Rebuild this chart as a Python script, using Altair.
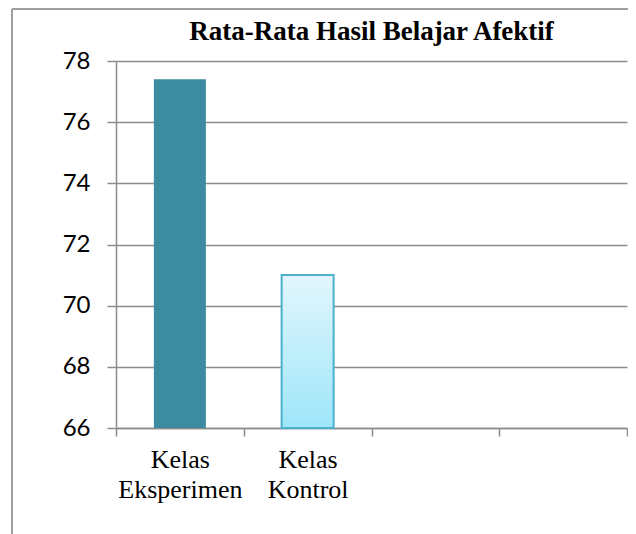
import altair as alt
import pandas as pd

# Data
categories = ["Kelas|Eksperimen", "Kelas|Kontrol", " ", "  "]
bar_categories = ["Kelas|Eksperimen", "Kelas|Kontrol"]
values = [77.4, 71.0]
y_ticks = [66, 68, 70, 72, 74, 76, 78]
y_min, y_max = 66, 78
title_text = "Rata-Rata Hasil Belajar Afektif"

df = pd.DataFrame({"kelas": bar_categories, "nilai": values})

GRID = "#8c8c8c"

x_enc = alt.X(
    "kelas:N",
    sort=categories,
    scale=alt.Scale(domain=categories, paddingInner=0, paddingOuter=0),
    axis=alt.Axis(
        title=None,
        labelAngle=0,
        labelExpr="split(datum.label, '|')",
        labelFont="Liberation Serif",
        labelFontSize=26,
        labelLineHeight=30,
        labelColor="#000000",
        labelPadding=10,
        tickBand="extent",
        tickSize=8,
        tickWidth=1.5,
        tickColor=GRID,
        domainColor=GRID,
        domainWidth=1.5,
        grid=False,
    ),
)
y_enc = alt.Y(
    "nilai:Q",
    scale=alt.Scale(domain=[y_min, y_max], nice=False, zero=False),
    axis=alt.Axis(
        title=None,
        values=y_ticks,
        grid=True,
        gridColor=GRID,
        gridWidth=1.5,
        domainColor=GRID,
        domainWidth=1.5,
        tickColor=GRID,
        tickWidth=1.5,
        tickSize=9,
        labelFont="Lato",
        labelFontSize=24,
        labelColor="#000000",
        labelPadding=17,
    ),
)

base = alt.Chart(df).encode(x=x_enc, y=y_enc, y2=alt.datum(y_min))

bar1 = base.mark_bar(
    color="#3c8ba1", width=alt.RelativeBandSize(0.407)
).transform_filter(alt.datum.kelas == bar_categories[0])
bar2 = base.mark_bar(
    width=alt.RelativeBandSize(0.407),
    color=alt.Gradient(
        gradient="linear",
        x1=0, x2=0, y1=0, y2=1,
        stops=[
            alt.GradientStop(offset=0, color="#e2f6fc"),
            alt.GradientStop(offset=1, color="#9ee6fa"),
        ],
    ),
    stroke="#4bb1cd",
    strokeWidth=2,
).transform_filter(alt.datum.kelas == bar_categories[1])

frame_left = alt.Chart(df).mark_rule(color="#999999", strokeWidth=1.5).encode(
    x=alt.value(-104), y=alt.value(-52), y2=alt.value(480)
)
frame_top = alt.Chart(df).mark_rule(color="#999999", strokeWidth=1.5).encode(
    x=alt.value(-104), x2=alt.value(530), y=alt.value(-52)
)

chart = (
    alt.layer(frame_left, frame_top, bar1, bar2)
    .properties(
        width=511,
        height=367,
        title=alt.Title(
            title_text,
            font="Liberation Serif",
            fontSize=27,
            fontWeight="bold",
            color="#000000",
            anchor="middle",
            offset=-38,
        ),
        autosize=alt.AutoSizeParams(type="none"),
        padding={"left": 108, "top": 53, "right": 1, "bottom": 106},
    )
    .configure_view(stroke=None)
)

chart.save("out.html", embed_options={"renderer": "svg", "actions": False})
